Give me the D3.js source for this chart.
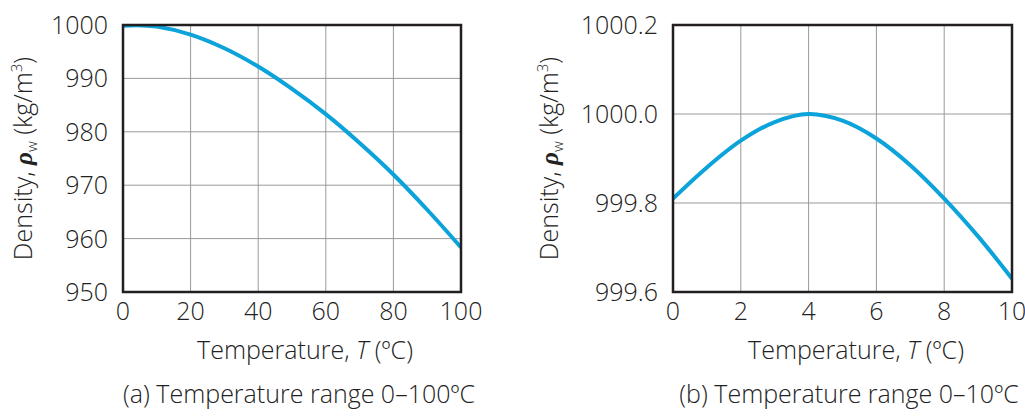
<!DOCTYPE html>
<html><head><meta charset="utf-8">
<script src="https://cdn.jsdelivr.net/npm/d3@7/dist/d3.min.js"></script>
<style>
body{margin:0;background:#fff;}
text{font-family:"Open Sans","Liberation Sans",Arial,sans-serif;font-weight:300;fill:#222;}
</style></head>
<body>
<svg id="c" width="1025" height="419"></svg>
<script>
// Panel (a): 0–100 °C
const tempsA = [0, 4, 10, 20, 30, 40, 50, 60, 70, 80, 90, 100];
const densA  = [999.84, 999.97, 999.70, 998.21, 995.65, 992.22, 988.03, 983.30, 977.90, 972.00, 965.40, 958.35];
const xTicksA = [0, 20, 40, 60, 80, 100];
const yTicksA = [950, 960, 970, 980, 990, 1000];
// Panel (b): 0–10 °C
const tempsB = [0, 1, 2, 3, 4, 5, 6, 7, 8, 9, 10];
const densB  = [999.81, 999.88, 999.94, 999.982, 1000.0, 999.985, 999.945, 999.885, 999.81, 999.725, 999.63];
const xTicksB = [0, 2, 4, 6, 8, 10];
const yTicksB = [999.6, 999.8, 1000.0, 1000.2];
const captions = ["(a) Temperature range 0–100ºC", "(b) Temperature range 0–10ºC"];

const svg = d3.select("#c");
const FS = 25;

function panel(cfg){
  const {x0,x1,y0,y1,xd,yd,xt,yt,fmt,xs,ys,cap,capX,titleX,labelX,id} = cfg;
  const x = d3.scaleLinear().domain(xd).range([x0,x1]);
  const y = d3.scaleLinear().domain(yd).range([y1,y0]);
  const g = svg.append("g");
  g.selectAll(".gx").data(xt).join("line")
    .attr("x1",d=>x(d)).attr("x2",d=>x(d)).attr("y1",y0).attr("y2",y1)
    .attr("stroke","#9a9a9a").attr("stroke-width",1);
  g.selectAll(".gy").data(yt).join("line")
    .attr("y1",d=>y(d)).attr("y2",d=>y(d)).attr("x1",x0).attr("x2",x1)
    .attr("stroke","#9a9a9a").attr("stroke-width",1);
  svg.append("clipPath").attr("id",id).append("rect")
    .attr("x",x0).attr("y",y0).attr("width",x1-x0).attr("height",y1-y0);
  const line = d3.line().x((d,i)=>x(xs[i])).y(d=>y(d)).curve(d3.curveCatmullRom.alpha(0.5));
  g.append("path").datum(ys).attr("d",line).attr("fill","none")
    .attr("stroke","#0ba3d9").attr("stroke-width",4).attr("clip-path",`url(#${id})`);
  g.append("rect").attr("x",x0).attr("y",y0).attr("width",x1-x0).attr("height",y1-y0)
    .attr("fill","none").attr("stroke","#231f20").attr("stroke-width",2.5);
  g.selectAll(".tx").data(xt).join("text")
    .attr("x",d=>x(d)).attr("y",y1+28).attr("text-anchor","middle")
    .attr("font-size",FS).text(d=>d);
  g.selectAll(".ty").data(yt).join("text")
    .attr("x",x0-15).attr("y",d=>y(d)+9).attr("text-anchor","end")
    .attr("font-size",FS).text(d=>fmt(d));
  const t = g.append("text").attr("x",titleX).attr("y",y1+67).attr("text-anchor","middle").attr("font-size",FS);
  t.append("tspan").text("Temperature, ");
  t.append("tspan").attr("font-style","italic").text("T");
  t.append("tspan").text(" (ºC)");
  const yl = g.append("text").attr("transform",`translate(${labelX},${(y0+y1)/2}) rotate(-90)`)
    .attr("text-anchor","middle").attr("font-size",FS);
  yl.append("tspan").text("Density, ");
  yl.append("tspan").attr("font-style","italic").attr("font-weight",700).attr("font-family","'Liberation Serif',serif").text("ρ");
  yl.append("tspan").attr("font-size",15).attr("dy",5).text("w");
  yl.append("tspan").attr("dy",-5).text("  (kg/m");
  yl.append("tspan").attr("font-size",15).attr("dy",-10).text("3");
  yl.append("tspan").attr("dy",10).text(")");
  svg.append("text").attr("x",capX).attr("y",403).attr("text-anchor","middle")
    .attr("font-size",FS).text(cap);
}

panel({id:"ca",x0:123,x1:461,y0:25,y1:292,xd:[0,100],yd:[950,1000],xt:xTicksA,yt:yTicksA,
  fmt:d3.format("d"),xs:tempsA,ys:densA,cap:captions[0],capX:299,titleX:305,labelX:32});
panel({id:"cb",x0:673,x1:1012,y0:25,y1:292,xd:[0,10],yd:[999.6,1000.2],xt:xTicksB,yt:yTicksB,
  fmt:d3.format(".1f"),xs:tempsB,ys:densB,cap:captions[1],capX:849,titleX:856,labelX:558});
</script>
</body></html>
